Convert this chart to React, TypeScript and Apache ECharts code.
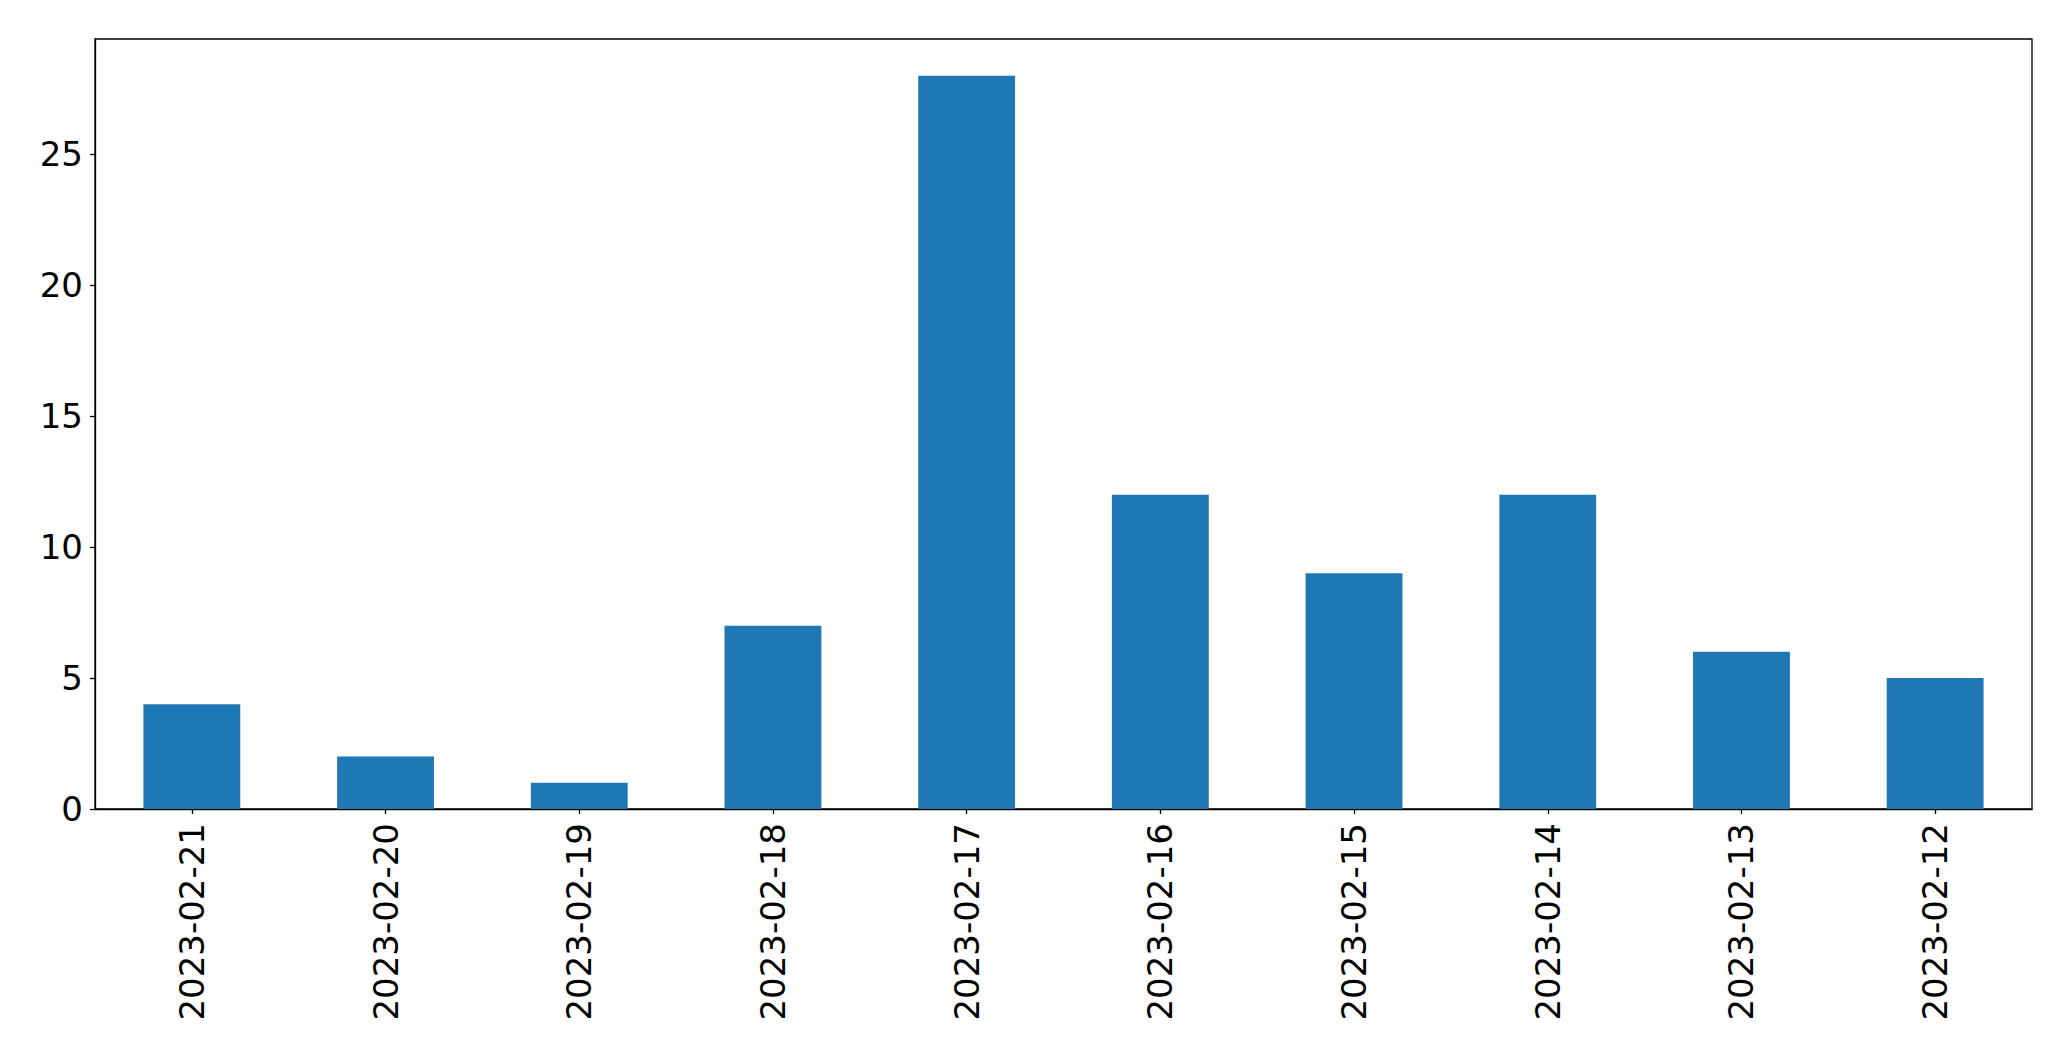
import React, { useEffect, useRef } from "react";
import * as echarts from "echarts";

const categories = [
  "2023-02-21",
  "2023-02-20",
  "2023-02-19",
  "2023-02-18",
  "2023-02-17",
  "2023-02-16",
  "2023-02-15",
  "2023-02-14",
  "2023-02-13",
  "2023-02-12",
];
const counts = [4, 2, 1, 7, 28, 12, 9, 12, 6, 5];
const yTicks = [0, 5, 10, 15, 20, 25];

export default function App() {
  const ref = useRef<HTMLDivElement>(null);
  useEffect(() => {
    if (!ref.current) return;
    const chart = echarts.init(ref.current, null, { renderer: "svg" });
    const font = "DejaVu Sans";
    chart.setOption({
      animation: false,
      backgroundColor: "#ffffff",
      grid: {
        left: 95,
        right: 39,
        top: 39,
        bottom: 252,
        show: true,
        borderColor: "#000000",
        borderWidth: 1.3,
        backgroundColor: "transparent",
      },
      xAxis: {
        type: "category",
        data: categories,
        boundaryGap: true,
        axisLine: { show: true, lineStyle: { color: "#000", width: 1.3 } },
        axisTick: {
          show: true,
          alignWithLabel: true,
          length: 5,
          lineStyle: { color: "#000", width: 1.3 },
        },
        axisLabel: {
          rotate: 90,
          margin: 14,
          fontFamily: font,
          fontSize: 34,
          color: "#000",
          interval: 0,
        },
        splitLine: { show: false },
      },
      yAxis: {
        type: "value",
        min: 0,
        max: 29.4,
        interval: 5,
        axisLine: { show: true, lineStyle: { color: "#000", width: 1.3 } },
        axisTick: {
          show: true,
          length: 5,
          customValues: yTicks,
          lineStyle: { color: "#000", width: 1.3 },
        },
        axisLabel: {
          margin: 12,
          fontFamily: font,
          fontSize: 34,
          color: "#000",
          customValues: yTicks,
        },
        splitLine: { show: false },
      },
      series: [
        {
          type: "bar",
          data: counts,
          barWidth: "50%",
          itemStyle: { color: "#1f77b4" },
        },
      ],
    });
    return () => chart.dispose();
  }, []);
  return (
    <div
      ref={ref}
      style={{ position: "absolute", left: 0, top: 0, width: 2071, height: 1061 }}
    />
  );
}
